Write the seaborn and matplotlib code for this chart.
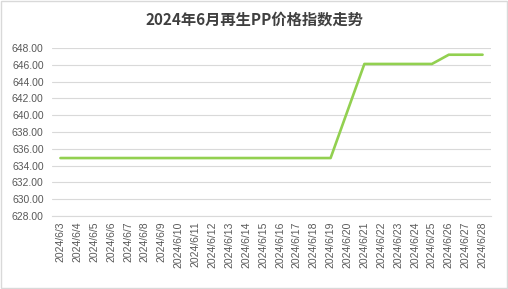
import matplotlib
matplotlib.use("Agg")
import matplotlib.pyplot as plt
import seaborn as sns
import pandas as pd
import numpy as np
from matplotlib.ticker import FixedLocator, FormatStrFormatter

dates = ["2024/6/%d" % d for d in range(3, 29)]
values = [634.9] * 17 + [640.5] + [646.1] * 5 + [647.2] * 3
yticks = [628, 630, 632, 634, 636, 638, 640, 642, 644, 646, 648]

sns.set_theme(style="white")
plt.rcParams['font.family'] = ['Noto Sans CJK SC', 'DejaVu Sans']

df = pd.DataFrame({"idx": np.arange(len(dates)), "date": dates, "value": values})

fig = plt.figure(figsize=(5.08, 2.89), dpi=100)
ax = fig.add_axes([52/508, 1 - 216/289, (491-52)/508, (216-48)/289])
sns.lineplot(data=df, x="idx", y="value", ax=ax, color="#92D050", linewidth=1.9)

ax.set_xlim(-0.5, len(dates) - 0.5)
ax.set_ylim(628, 648)
ax.set_yticks(yticks)
ax.yaxis.set_major_formatter(FormatStrFormatter("%.2f"))
ax.set_xticks(df["idx"])
ax.set_xticklabels(dates, rotation=90, fontsize=7.5, color="#595959", family="Liberation Sans")
ax.xaxis.set_minor_locator(FixedLocator(np.arange(-0.5, len(dates), 1)))
ax.tick_params(axis="x", which="major", length=0, pad=4)
ax.tick_params(axis="x", which="minor", length=4, color="#D9D9D9", width=0.8)
ax.tick_params(axis="y", length=0, labelsize=7.5, labelcolor="#595959", pad=6)
for lab in ax.get_yticklabels():
    lab.set_family("Liberation Sans")
ax.grid(axis="y", color="#D9D9D9", linewidth=0.8)
ax.set_axisbelow(True)
for s in ["left", "right", "top"]:
    ax.spines[s].set_visible(False)
ax.spines["bottom"].set_color("#D9D9D9")
ax.spines["bottom"].set_linewidth(0.8)
ax.set_xlabel("")
ax.set_ylabel("")

fig.text(0.5, 1 - 20/289, "2024年6月再生PP价格指数走势", ha="center", va="center",
         fontsize=11, fontweight="bold", color="#404040")
fig.patches.append(plt.Rectangle((0.002, 0.003), 0.996, 0.994, transform=fig.transFigure,
                                 fill=False, edgecolor="#D9D9D9", linewidth=1))
fig.savefig("out.png", dpi=100)
